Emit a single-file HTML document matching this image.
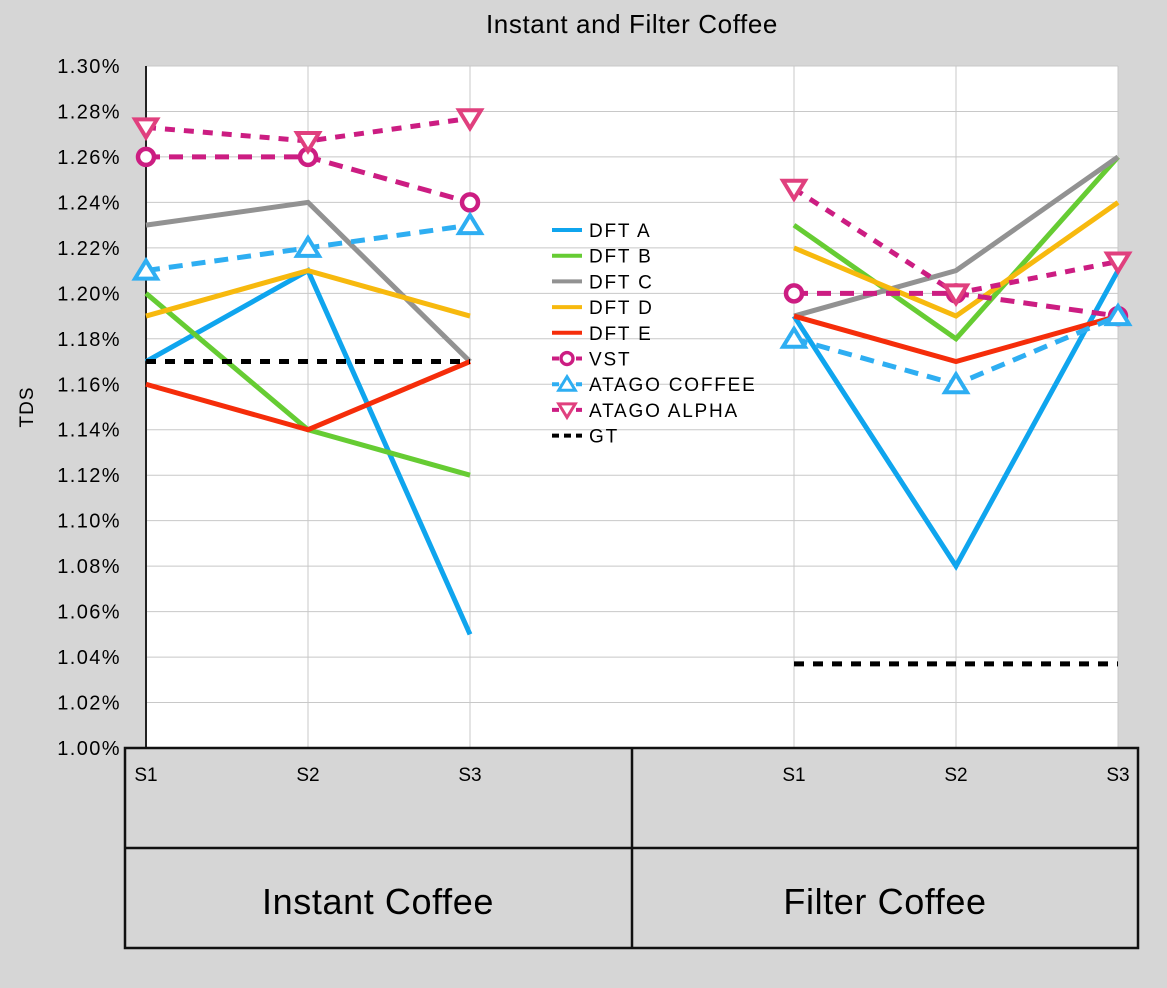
<!DOCTYPE html>
<html><head><meta charset="utf-8"><style>
body{margin:0;background:#d6d6d6;}
svg{display:block;font-family:"Liberation Sans",sans-serif;}
</style></head><body>
<svg id="chart" width="1167" height="988">
<rect x="0" y="0" width="1167" height="988" fill="#d6d6d6"/>
<text x="632" y="33" text-anchor="middle" font-size="26" letter-spacing="0.6">Instant and Filter Coffee</text>
<text transform="translate(33,407) rotate(-90)" text-anchor="middle" font-size="19" letter-spacing="1">TDS</text>
<g id="grid"></g><g id="series"></g><g id="legend"></g>
<g fill="none" stroke="#111" stroke-width="2.5">
<rect x="125" y="748" width="1013" height="200"/>
<line x1="125" y1="848" x2="1138" y2="848"/>
<line x1="632" y1="748" x2="632" y2="948"/>
</g>
<text x="378" y="914" text-anchor="middle" font-size="36" letter-spacing="0.6">Instant Coffee</text>
<text x="885" y="914" text-anchor="middle" font-size="36" letter-spacing="0.6">Filter Coffee</text>
</svg>
<script>
const categories = ["S1","S2","S3","","S1","S2","S3"];
const yTicks = [1.00,1.02,1.04,1.06,1.08,1.10,1.12,1.14,1.16,1.18,1.20,1.22,1.24,1.26,1.28,1.30];
const seriesNames = ["DFT A","DFT B","DFT C","DFT D","DFT E","VST","ATAGO COFFEE","ATAGO ALPHA","GT"];
const dftA = [1.17,1.21,1.05,null,1.19,1.08,1.21];
const dftB = [1.20,1.14,1.12,null,1.23,1.18,1.26];
const dftC = [1.23,1.24,1.17,null,1.19,1.21,1.26];
const dftD = [1.19,1.21,1.19,null,1.22,1.19,1.24];
const dftE = [1.16,1.14,1.17,null,1.19,1.17,1.19];
const vst = [1.26,1.26,1.24,null,1.20,1.20,1.19];
const atagoCoffee = [1.21,1.22,1.23,null,1.18,1.16,1.19];
const atagoAlpha = [1.273,1.267,1.277,null,1.246,1.20,1.214];
const gt = [1.17,1.17,1.17,null,1.037,1.037,1.037];

const NS="http://www.w3.org/2000/svg";
const x0=146,x1=1118,yTop=66,yBot=748,yMin=1.00,yMax=1.30;
const xS=i=>x0+i*(x1-x0)/(categories.length-1);
const yS=v=>yBot-(v-yMin)/(yMax-yMin)*(yBot-yTop);
function mk(tag,attrs,parent){const e=document.createElementNS(NS,tag);for(const k in attrs)e.setAttribute(k,attrs[k]);parent.appendChild(e);return e;}
const grid=document.getElementById('grid');
mk('rect',{x:x0,y:yTop,width:x1-x0,height:yBot-yTop,fill:'#fff'},grid);
yTicks.forEach(t=>{
  const l=mk('line',{x1:x0,x2:x1,y1:yS(t),y2:yS(t),stroke:'#c8c8c8','stroke-width':1},grid);
  
  
  const tx=mk('text',{x:121,y:yS(t)+7,'text-anchor':'end','font-size':20,'letter-spacing':1.4},grid);
  tx.textContent=(t).toFixed(2)+'%';
  
  
});
categories.forEach((c,i)=>{
  if(!c) return;
  const l=mk('line',{x1:xS(i),x2:xS(i),y1:yTop,y2:yBot,stroke:'#c8c8c8','stroke-width':1},grid);
  
  
  const tx=mk('text',{x:xS(i),y:781,'text-anchor':'middle','font-size':19},grid);
  tx.textContent=c;
  
  
});
const ax=mk('line',{x1:x0,x2:x0,y1:yTop,y2:yBot,stroke:'#222','stroke-width':2},grid);



const styles=[
 {d:dftA,c:'#0fa5ee',dash:null,m:null},
 {d:dftB,c:'#66cc33',dash:null,m:null},
 {d:dftC,c:'#929292',dash:null,m:null},
 {d:dftD,c:'#f7b90e',dash:null,m:null},
 {d:dftE,c:'#f52d0a',dash:null,m:null},
 {d:vst,c:'#cc1d82',dash:'14 9',m:'circle'},
 {d:atagoCoffee,c:'#2eaef2',dash:'14 9',m:'up'},
 {d:atagoAlpha,c:'#cc1d82',dash:'10 9',m:'down',mc:'#e0407e'},
 {d:gt,c:'#000',dash:'10 9',m:null}
];
const sg=document.getElementById('series');
function marker(g,m,x,y,c){
  if(m==='circle'){mk('circle',{cx:x,cy:y,r:8,fill:'#fff',stroke:c,'stroke-width':4.5},g);}
  else if(m==='up'){mk('polygon',{points:`${x},${y-10} ${x+11},${y+8} ${x-11},${y+8}`,fill:'#fff',stroke:c,'stroke-width':4},g);}
  else if(m==='down'){mk('polygon',{points:`${x-11},${y-8} ${x+11},${y-8} ${x},${y+10}`,fill:'#fff',stroke:c,'stroke-width':4},g);}
}
styles.forEach((s,si)=>{
  const g=mk('g',{},sg);
  
  
  [[0,1,2],[4,5,6]].forEach(idx=>{
    const pts=idx.filter(i=>s.d[i]!=null).map(i=>xS(i)+','+yS(s.d[i])).join(' ');
    const pl=mk('polyline',{points:pts,fill:'none',stroke:s.c,'stroke-width':5,'stroke-linejoin':'miter'},g);
    if(s.dash)pl.setAttribute('stroke-dasharray',s.dash);
    
    
  });
  if(s.m){s.d.forEach((v,i)=>{if(v!=null)marker(g,s.m,xS(i),yS(v),s.mc||s.c);});}
});
const lg=document.getElementById('legend');
seriesNames.forEach((n,i)=>{
  const s=styles[i];const y=230+i*25.7;
  const g=mk('g',{},lg);
  
  
  const l=mk('line',{x1:552,x2:582,y1:y,y2:y,stroke:s.c,'stroke-width':4},g);
  if(s.dash)l.setAttribute('stroke-dasharray','7 5');
  if(s.m){const mg=mk('g',{transform:`translate(567,${y}) scale(0.75) translate(-567,${-y})`},g);marker(mg,s.m,567,y,s.mc||s.c);}
  const t=mk('text',{x:589,y:y+7,'font-size':19,'letter-spacing':1.8},g);t.textContent=n;
});
</script>
</body></html>
